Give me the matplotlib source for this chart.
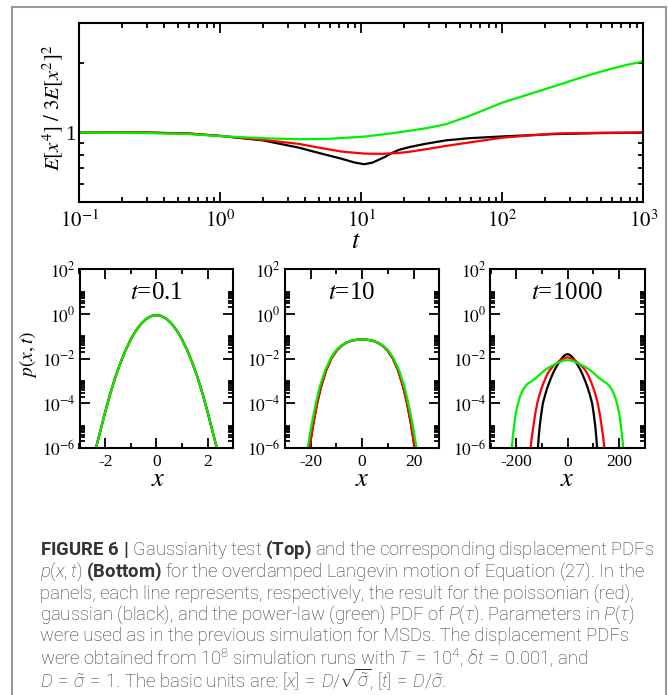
import matplotlib
matplotlib.use("Agg")
import matplotlib.pyplot as plt
from matplotlib.ticker import FixedLocator, FixedFormatter, NullFormatter, MultipleLocator
from matplotlib.lines import Line2D

plt.rcParams['font.family'] = ['Liberation Serif', 'DejaVu Serif']
plt.rcParams['mathtext.fontset'] = 'stix'
plt.rcParams['mathtext.rm'] = 'Roboto:light'
plt.rcParams['mathtext.it'] = 'Roboto:italic:light'
plt.rcParams['mathtext.bf'] = 'Roboto:bold'

# ---------------- data: top panel (Gaussianity ratio) ----------------
t_black = [0.1, 0.3, 0.6, 1, 2, 3.6, 5, 7.2, 9, 10.5, 12, 14.5, 16.5, 18.4, 22, 29, 40, 58, 100, 234, 500, 1000]
ratio_black = [1.0, 1.0, 0.99, 0.967, 0.925, 0.86, 0.815, 0.77, 0.74, 0.728, 0.74, 0.78, 0.815, 0.84,
               0.865, 0.895, 0.925, 0.945, 0.962, 0.985, 0.995, 1.0]
t_red = [0.1, 0.3, 0.6, 1, 2, 3.6, 5, 7.2, 10.5, 14, 18.4, 22, 29, 40, 58, 100, 234, 500, 1000]
ratio_red = [1.0, 1.0, 0.99, 0.967, 0.93, 0.893, 0.86, 0.827, 0.81, 0.808, 0.815, 0.825, 0.847,
             0.875, 0.905, 0.95, 0.99, 0.998, 1.0]
t_green = [0.1, 0.3, 0.6, 1, 2, 3.6, 6, 10.5, 17, 29, 40, 58, 100, 150, 256, 350, 468, 581, 759, 1000]
ratio_green = [1.0, 0.995, 0.985, 0.965, 0.945, 0.935, 0.94, 0.96, 0.995, 1.045, 1.088, 1.18, 1.35, 1.46,
               1.62, 1.725, 1.82, 1.89, 1.97, 2.04]

# ---------------- data: bottom panels (displacement PDFs) ----------------
# t = 0.1
x1 = [-2.45, -2.2, -2.0, -1.8, -1.6, -1.4, -1.2, -1.0, -0.8, -0.6, -0.4, -0.2, 0.0,
      0.2, 0.4, 0.6, 0.8, 1.0, 1.2, 1.4, 1.6, 1.8, 2.0, 2.2, 2.45]
p1 = [4.0e-7, 5.0e-6, 4.0e-5, 2.7e-4, 1.5e-3, 6.6e-3, 2.4e-2, 7.3e-2, 0.18, 0.36, 0.60, 0.81, 0.89,
      0.81, 0.60, 0.36, 0.18, 7.3e-2, 2.4e-2, 6.6e-3, 1.5e-3, 2.7e-4, 4.0e-5, 5.0e-6, 4.0e-7]
p1_red = p1
p1_black = p1
p1_green = p1

# t = 10
x2_green = [-21.3, -20.7, -19.6, -18, -16.5, -14.4, -12.3, -10.3, -8.2, -6.2, -4.1, -2.1, 0,
            2.1, 4.1, 6.2, 8.2, 10.3, 12.3, 14.4, 16.5, 18, 19.6, 20.7, 21.3]
p2_green = [8.7e-7, 2.2e-6, 1.2e-5, 1e-4, 5.4e-4, 3.0e-3, 1e-2, 2.26e-2, 3.8e-2, 5.3e-2, 6.4e-2, 7.05e-2, 7.2e-2,
            7.05e-2, 6.4e-2, 5.3e-2, 3.8e-2, 2.26e-2, 1e-2, 3.0e-3, 5.4e-4, 1e-4, 1.2e-5, 2.2e-6, 8.7e-7]
x2_red = [-20.5, -20, -19, -17.5, -16, -14, -12, -10, -8, -6, -4, -2, 0,
          2, 4, 6, 8, 10, 12, 14, 16, 17.5, 19, 20, 20.5]
p2_red = [8.7e-7, 2.2e-6, 1.2e-5, 1e-4, 5.4e-4, 3.0e-3, 1e-2, 2.26e-2, 3.8e-2, 5.3e-2, 6.4e-2, 7.05e-2, 7.2e-2,
          7.05e-2, 6.4e-2, 5.3e-2, 3.8e-2, 2.26e-2, 1e-2, 3.0e-3, 5.4e-4, 1e-4, 1.2e-5, 2.2e-6, 8.7e-7]
x2_black = x2_red
p2_black = p2_red

# t = 1000
x3_black = [-116, -112, -108, -102, -96, -88, -80, -70, -60, -50, -40, -30, -20, -10, 0,
            10, 20, 30, 40, 50, 60, 70, 80, 88, 96, 102, 108, 112, 116]
p3_black = [7.9e-7, 3.2e-6, 1e-5, 3.5e-5, 1e-4, 2.2e-4, 4.5e-4, 9.3e-4, 1.8e-3, 3.2e-3, 5e-3, 7.9e-3, 1.12e-2, 1.45e-2, 1.6e-2,
            1.45e-2, 1.12e-2, 7.9e-3, 5e-3, 3.2e-3, 1.8e-3, 9.3e-4, 4.5e-4, 2.2e-4, 1e-4, 3.5e-5, 1e-5, 3.2e-6, 7.9e-7]
x3_red = [-145, -140, -134, -126, -118, -106, -94, -80, -68, -55, -40, -30, -20, -10, 0,
          10, 20, 30, 40, 55, 68, 80, 94, 106, 118, 126, 134, 140, 145]
p3_red = [7.9e-7, 2.5e-6, 7.9e-6, 3.2e-5, 1e-4, 3.2e-4, 7.9e-4, 1.9e-3, 3.2e-3, 4.7e-3, 6.6e-3, 8.1e-3, 9.5e-3, 1.07e-2, 1.15e-2,
          1.07e-2, 9.5e-3, 8.1e-3, 6.6e-3, 4.7e-3, 3.2e-3, 1.9e-3, 7.9e-4, 3.2e-4, 1e-4, 3.2e-5, 7.9e-6, 2.5e-6, 7.9e-7]
x3_green = [-218, -213, -208, -202, -195, -185, -175, -165, -155, -145, -133, -120, -107, -90, -68, -40, -20, 0,
            20, 40, 68, 90, 107, 120, 133, 145, 155, 165, 175, 185, 195, 202, 208, 213, 218]
p3_green = [7.9e-7, 3.2e-6, 1e-5, 3.2e-5, 7.9e-5, 2e-4, 3.8e-4, 5.6e-4, 7.6e-4, 8.9e-4, 1.12e-3, 1.45e-3, 2e-3, 2.95e-3,
            4.4e-3, 6.3e-3, 7.9e-3, 8.7e-3,
            7.9e-3, 6.3e-3, 4.4e-3, 2.95e-3, 2e-3, 1.45e-3, 1.12e-3, 8.9e-4, 7.6e-4, 5.6e-4, 3.8e-4, 2e-4, 7.9e-5,
            3.2e-5, 1e-5, 3.2e-6, 7.9e-7]

panel_titles = ["0.1", "10", "1000"]
panel_xlims = [3, 30, 300]
panel_xticks = [[-2, 0, 2], [-20, 0, 20], [-200, 0, 200]]
top_xtick_labels = [r"$10^{-1}$", r"$10^{0}$", r"$10^{1}$", r"$10^{2}$", r"$10^{3}$"]
bottom_ytick_labels = [r"$10^{-6}$", r"$10^{-4}$", r"$10^{-2}$", r"$10^{0}$", r"$10^{2}$"]

caption_lines = [
    r"$\mathbf{FIGURE\ 6\ |}$ Gaussianity test $\mathbf{(Top)}$ and the corresponding displacement PDFs",
    r"$p(x,t)$ $\mathbf{(Bottom)}$ for the overdamped Langevin motion of Equation (27). In the",
    r"panels, each line represents, respectively, the result for the poissonian (red),",
    r"gaussian (black), and the power-law (green) PDF of $P(\tau)$. Parameters in $P(\tau)$",
    r"were used as in the previous simulation for MSDs. The displacement PDFs",
    r"were obtained from 10$^8$ simulation runs with $T\,=\,10^4$, $\delta t\,=\,0.001$, and",
    r"$D\,=\,\tilde{\sigma}\,=\,1$. The basic units are: $[x]\,=\,D/\sqrt{\tilde{\sigma}}$, $[t]\,=\,D/\tilde{\sigma}$.",
]

# ---------------- figure ----------------
W, H = 668, 695
fig = plt.figure(figsize=(W / 100, H / 100), dpi=100)


def box(x0, y0, x1_, y1_):
    return [x0 / W, 1 - y1_ / H, (x1_ - x0) / W, (y1_ - y0) / H]


LW = 1.6
SPW = 1.5
GREEN = '#00f000'
RED = '#ff0000'


def style_axes(ax):
    for s in ax.spines.values():
        s.set_linewidth(SPW)
    ax.tick_params(which='both', direction='in', top=True, right=True, width=1.3)
    ax.tick_params(which='major', length=7)
    ax.tick_params(which='minor', length=3.5)


# top panel
ax = fig.add_axes(box(79.3, 23, 643.3, 201.7))
ax.plot(t_black, ratio_black, color='black', lw=LW)
ax.plot(t_red, ratio_red, color=RED, lw=LW)
ax.plot(t_green, ratio_green, color=GREEN, lw=LW)
ax.set_xscale('log')
ax.set_yscale('log')
ax.set_xlim(0.1, 1000)
ax.set_ylim(0.5, 3)
ax.xaxis.set_major_locator(FixedLocator([0.1, 1, 10, 100, 1000]))
ax.xaxis.set_major_formatter(FixedFormatter(top_xtick_labels))
ax.xaxis.set_minor_locator(FixedLocator([k * 10.0 ** j for j in (-1, 0, 1, 2) for k in range(2, 10)]))
ax.xaxis.set_minor_formatter(NullFormatter())
ax.yaxis.set_major_locator(FixedLocator([1]))
ax.yaxis.set_major_formatter(FixedFormatter(["1"]))
ax.yaxis.set_minor_locator(FixedLocator([0.6, 0.7, 0.8, 0.9, 2]))
ax.yaxis.set_minor_formatter(NullFormatter())
style_axes(ax)
ax.tick_params(axis='x', which='major', labelsize=15, pad=6)
ax.tick_params(axis='y', which='major', labelsize=15, pad=3)
fig.text(53 / W, 1 - 108 / H, r"$E[x^4]\ /\ 3E[x^2]^2$", rotation=90, ha='center', va='center', fontsize=15)
fig.text(356 / W, 1 - 242 / H, r"$t$", ha='center', va='center', fontsize=19)

# bottom panels
panel_x = [(79.5, 233.3), (285, 439.2), (490.5, 644.5)]
title_cx = [156.4, 351.8, 567.5]
xlabel_cx = [157.8, 362.5, 567]
series = [
    [(x1, p1_black, 'black'), (x1, p1_red, RED), (x1, p1_green, GREEN)],
    [(x2_black, p2_black, 'black'), (x2_red, p2_red, RED), (x2_green, p2_green, GREEN)],
    [(x3_black, p3_black, 'black'), (x3_red, p3_red, RED), (x3_green, p3_green, GREEN)],
]
for i, (xa, xb) in enumerate(panel_x):
    a = fig.add_axes(box(xa, 269.3, xb, 448))
    for xs, ps, c in series[i]:
        a.plot(xs, ps, color=c, lw=LW)
    a.set_yscale('log')
    a.set_ylim(1e-6, 1e2)
    L = panel_xlims[i]
    a.set_xlim(-L, L)
    a.xaxis.set_major_locator(FixedLocator(panel_xticks[i]))
    a.xaxis.set_major_formatter(FixedFormatter([str(v) for v in panel_xticks[i]]))
    a.xaxis.set_minor_locator(MultipleLocator(L / 3))
    a.yaxis.set_major_locator(FixedLocator([1e-6, 1e-4, 1e-2, 1, 1e2]))
    a.yaxis.set_major_formatter(FixedFormatter(bottom_ytick_labels))
    a.yaxis.set_minor_locator(FixedLocator([k * 10.0 ** j for j in (-6, -4, -2, 0) for k in range(2, 11)]))
    a.yaxis.set_minor_formatter(NullFormatter())
    style_axes(a)
    a.tick_params(which='major', labelsize=12.5)
    a.tick_params(axis='x', which='major', pad=4)
    a.tick_params(axis='y', which='major', pad=3)
    fig.text(title_cx[i] / W, 1 - 293 / H, r"$t$=" + panel_titles[i], ha='center', va='center', fontsize=18)
    fig.text(xlabel_cx[i] / W, 1 - 480 / H, r"$x$", ha='center', va='center', fontsize=19)

fig.text(28 / W, 1 - 354 / H, r"$p(x,t)$", rotation=90, ha='center', va='center', fontsize=14)

# outer frame
fc = '#999999'
fig.add_artist(Line2D([12 / W, 12 / W], [0, 1 - 7 / H], color=fc, lw=1.5, transform=fig.transFigure))
fig.add_artist(Line2D([12 / W, 666 / W], [1 - 7 / H, 1 - 7 / H], color=fc, lw=1.5, transform=fig.transFigure))
fig.add_artist(Line2D([666 / W, 666 / W], [0, 1 - 7 / H], color=fc, lw=1.5, transform=fig.transFigure))

# caption
cap_y0 = 550
cap_dy = 21.6
for k, line in enumerate(caption_lines):
    fig.text(40 / W, 1 - (cap_y0 + k * cap_dy) / H, line, ha='left', va='center', fontsize=13.3,
             family=['Roboto', 'DejaVu Sans'], weight='light', color='#333333', math_fontfamily='custom')

fig.savefig("out.png", dpi=100)
